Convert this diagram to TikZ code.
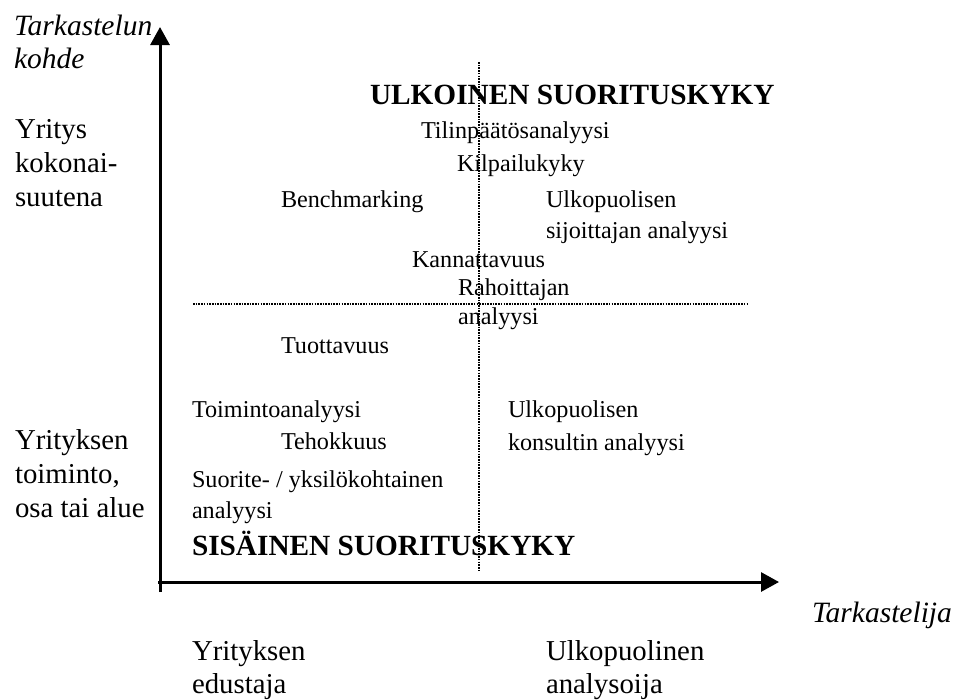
\documentclass[tikz,border=0pt]{standalone}
\usepackage{fontspec}
\setmainfont{Liberation Serif}
\usetikzlibrary{arrows.meta}
\begin{document}
\begin{tikzpicture}[x=1pt,y=-1pt,
  txt/.style={anchor=base west,inner sep=0pt,outer sep=0pt,font=\fontsize{24.2}{28}\selectfont},
  big/.style={anchor=base west,inner sep=0pt,outer sep=0pt,font=\fontsize{28.8}{34}\selectfont},
  bigit/.style={anchor=base west,inner sep=0pt,outer sep=0pt,font=\fontsize{29.5}{34}\selectfont\itshape},
  head/.style={anchor=base west,inner sep=0pt,outer sep=0pt,font=\fontsize{29.3}{34}\selectfont\bfseries},
  axis/.style={line width=3pt,-{Triangle[length=18pt,width=19pt]}},
  divider/.style={line width=2pt,dash pattern=on 1.6pt off 1.1pt}]
\useasboundingbox (0,0) rectangle (965,699);
% coordinates
\coordinate (yb) at (160,592);
\coordinate (yt) at (160,27);
\coordinate (xl) at (158,582);
\coordinate (xr) at (779,582);
\coordinate (vt) at (479,62);
\coordinate (vb) at (479,572);
\coordinate (hl) at (193,304);
\coordinate (hr) at (747,304);
% axes and dividers
\draw[divider] (vt) -- (vb);
\draw[divider] (hl) -- (hr);
\draw[axis] (yb) -- (yt);
\draw[axis] (xl) -- (xr);
% axis titles
\node[bigit] (t1) at (14,35) {Tarkastelun};
\node[bigit] (t2) at (14,68) {kohde};
\node[bigit] (t3) at (812,622) {Tarkastelija};
% left labels
\node[big] (l1) at (15,138) {Yritys};
\node[big] (l2) at (15,172) {kokonai-};
\node[big] (l3) at (15,206) {suutena};
\node[big] (l4) at (15,449) {Yrityksen};
\node[big] (l5) at (15,483) {toiminto,};
\node[big] (l6) at (15,517) {osa tai alue};
% bottom labels
\node[big] (b1) at (192,660) {Yrityksen};
\node[big] (b2) at (192,693) {edustaja};
\node[big] (b3) at (546,660) {Ulkopuolinen};
\node[big] (b4) at (546,693) {analysoija};
% headers
\node[head] (h1) at (370,104) {ULKOINEN SUORITUSKYKY};
\node[head] (h2) at (192,555) {SISÄINEN SUORITUSKYKY};
% content
\node[txt] (c1) at (421,138) {Tilinpäätösanalyysi};
\node[txt] (c2) at (457,171) {Kilpailukyky};
\node[txt] (c3) at (281,207) {Benchmarking};
\node[txt] (c4) at (546,207) {Ulkopuolisen};
\node[txt] (c5) at (546,238) {sijoittajan analyysi};
\node[txt] (c6) at (412,267) {Kannattavuus};
\node[txt] (c7) at (458,295) {Rahoittajan};
\node[txt] (c8) at (458,324) {analyysi};
\node[txt] (c9) at (281,353) {Tuottavuus};
\node[txt] (c10) at (192,417) {Toimintoanalyysi};
\node[txt] (c11) at (281,449) {Tehokkuus};
\node[txt] (c12) at (192,487) {Suorite- / yksilökohtainen};
\node[txt] (c13) at (192,518) {analyysi};
\node[txt] (c14) at (508,417) {Ulkopuolisen};
\node[txt] (c15) at (508,450) {konsultin analyysi};
\end{tikzpicture}
\end{document}
